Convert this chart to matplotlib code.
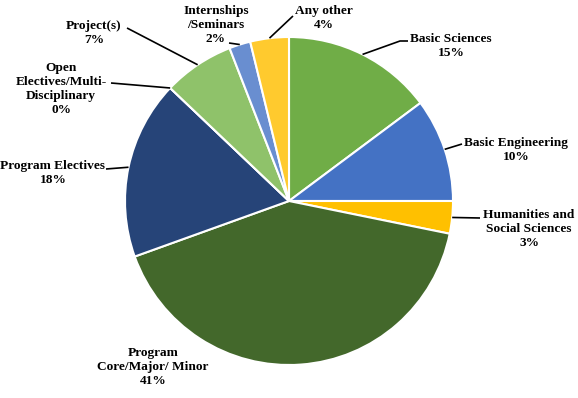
import numpy as np
import matplotlib.pyplot as plt

plt.rcParams['font.family'] = ['Liberation Serif', 'DejaVu Serif']

categories = ["Basic Sciences", "Basic Engineering", "Humanities and\nSocial Sciences",
              "Program\nCore/Major/ Minor", "Program Electives",
              "Open\nElectives/Multi-\nDisciplinary", "Project(s)",
              "Internships\n/Seminars", "Any other"]
shares = [14.8, 10.2, 3.2, 41.3, 17.6, 0.0, 7.0, 2.1, 3.8]
colors = ["#70AD47", "#4472C4", "#FFC000", "#43682B", "#264478",
          "#9E480E", "#8FC26A", "#698ED0", "#FFCA2E"]

W, H = 578, 398
fig = plt.figure(figsize=(W / 100, H / 100), dpi=100)
ax = fig.add_axes([0, 0, 1, 1])

cx, cy, R = 289, H - 201, 164
wedges, _ = ax.pie(shares, colors=colors, startangle=90, counterclock=False,
                   center=(cx, cy), radius=R, frame=True,
                   wedgeprops=dict(edgecolor='white', linewidth=1.5))
ax.set_xlim(0, W)
ax.set_ylim(0, H)
ax.set_aspect('equal')
ax.axis('off')

def px(x, y):
    return x, H - y

# label layout: text centre (px), leader start (px) or None, optional elbow (px)
layout = [
    ((451, 46), (408, 41), (400, 41)),
    ((516, 150), (462, 144), None),
    ((529, 229), (480, 218), None),
    ((153, 367), None, None),
    ((53, 173), (106, 169), None),
    ((61, 89), (111, 83), None),
    ((94, 33), (127, 28), None),
    ((216, 25), (229, 43), None),
    ((324, 18), (293, 16), None),
]

for w, cat, val, (tpos, lstart, elbow) in zip(wedges, categories, shares, layout):
    label = f"{cat}\n{round(val):.0f}%"
    tx, ty = px(*tpos)
    ax.text(tx, ty, label, ha='center', va='center', fontsize=9.6,
            fontweight='bold', linespacing=1.2, color='black')
    if lstart is None:
        continue
    mid = np.deg2rad((w.theta1 + w.theta2) / 2)
    ax_, ay_ = cx + R * np.cos(mid), cy + R * np.sin(mid)
    pts = [px(*lstart)]
    if elbow is not None:
        pts.append(px(*elbow))
    pts.append((ax_, ay_))
    xs, ys = zip(*pts)
    ax.plot(xs, ys, color='black', lw=1.2, solid_capstyle='butt')

fig.savefig("out.png", dpi=100)
